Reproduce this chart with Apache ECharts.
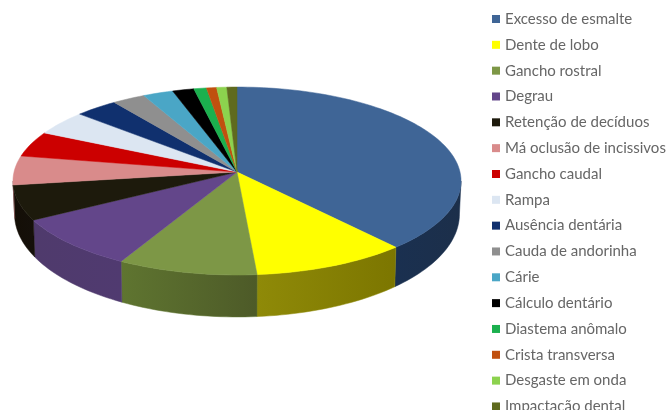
<!DOCTYPE html>
<html>
<head>
<meta charset="utf-8">
<style>html,body{margin:0;padding:0;background:#fff}#chart{width:666px;height:410px}</style>
<script src="https://cdn.jsdelivr.net/npm/echarts@6/dist/echarts.min.js"></script>
</head>
<body>
<div id="chart"></div>
<script>
// Share of each dental finding
const categories = ['Excesso de esmalte','Dente de lobo','Gancho rostral','Degrau','Retenção de decíduos','Má oclusão de incissivos','Gancho caudal','Rampa','Ausência dentária','Cauda de andorinha','Cárie','Cálculo dentário','Diastema anômalo','Crista transversa','Desgaste em onda','Impactação dental'];
const shares = [38.5,10.2,9.2,8.9,6.0,5.0,4.4,4.3,3.4,2.6,2.4,1.7,1.0,0.8,0.8,0.8];
const topColors = ['#3f6596','#ffff00','#7d9746','#63468a','#1d1a0c','#d98b8b','#cc0000','#dce6f2','#10306e','#8f8f8f','#4aa6c6','#000000','#1bb04e','#c0500f','#8cd24e','#5f6a1e'];
const wallColors = [['#1a3050','#1c2f4a'],['#8f8a08','#7c7600'],['#5f7530','#4d5a28'],['#4f3a6c','#503a70'],['#140e06','#15100a'],['#8c5a5a','#8c5a5a'],['#800000','#800000'],['#8f959e','#8f959e'],['#0a1f48','#0a1f48'],['#5c5c5c','#5c5c5c'],['#2f6d82','#2f6d82'],['#000000','#000000'],['#127033','#127033'],['#7c340a','#7c340a'],['#5b8833','#5b8833'],['#3d4513','#3d4513']];

// Perspective of the tilted disc
const disc = { cx: 237, cy: 172, rx: 223, ry: 93.1, k: 0.0957 };
const total = shares.reduce((a, b) => a + b, 0);
const RAD = Math.PI / 180;
const sideStart = Math.acos(-disc.k) / RAD;
const sideEnd = 360 - sideStart;

function rim(deg, lower) {
  const u = Math.sin(deg * RAD), v = -Math.cos(deg * RAD);
  const w = 1 - disc.k * v;
  const x = u * disc.rx / w, y = v * disc.ry / w;
  if (!lower) return [disc.cx + x, disc.cy + y];
  return [disc.cx + x * 0.993, disc.cy + y + 32 + 10 * v];
}
function arc(a, b, lower) {
  const pts = [], n = Math.max(2, Math.ceil((b - a) / 1.5));
  for (let i = 0; i <= n; i++) pts.push(rim(a + (b - a) * i / n, lower));
  return pts;
}

function renderSlice(index, value, startDeg) {
  const endDeg = startDeg + value / total * 360;
  const children = [];
  const a = Math.max(startDeg, sideStart), b = Math.min(endDeg, sideEnd);
  if (b > a) {
    const top = arc(a, b, false), bottom = arc(a, b, true).reverse();
    children.push({
      type: 'polygon',
      shape: { points: top.concat(bottom) },
      style: {
        fill: new echarts.graphic.LinearGradient(0, 0, 1, 0, [
          { offset: 0, color: wallColors[index][0] },
          { offset: 1, color: wallColors[index][1] }
        ]),
        stroke: wallColors[index][0], lineWidth: 0.5
      }
    });
  }
  children.push({
    type: 'polygon',
    z2: 10,
    shape: { points: [[disc.cx, disc.cy]].concat(arc(startDeg, endDeg, false)) },
    style: { fill: topColors[index], stroke: topColors[index], lineWidth: 0.5 }
  });
  return { type: 'group', children };
}

let running = 0;
const series = categories.map((name, i) => {
  const startDeg = running / total * 360;
  running += shares[i];
  return {
    type: 'custom',
    name,
    coordinateSystem: 'none',
    silent: true,
    itemStyle: { color: topColors[i] },
    data: [[shares[i]]],
    renderItem: (params, api) => renderSlice(i, api.value(0), startDeg)
  };
});

const chart = echarts.init(document.getElementById('chart'), null, { renderer: 'canvas' });
chart.setOption({
  animation: false,
  backgroundColor: '#fff',
  legend: {
    orient: 'vertical',
    left: 488,
    top: 11,
    height: 600,
    padding: [0, 0, 0, 4],
    icon: 'rect',
    itemWidth: 8,
    itemHeight: 8,
    itemGap: 9.83,
    selectedMode: false,
    data: categories,
    textStyle: { fontFamily: 'Lato', fontSize: 15, color: '#666666', padding: [0, 0, 0, 0], lineHeight: 16 }
  },
  series
});
</script>
</body>
</html>
